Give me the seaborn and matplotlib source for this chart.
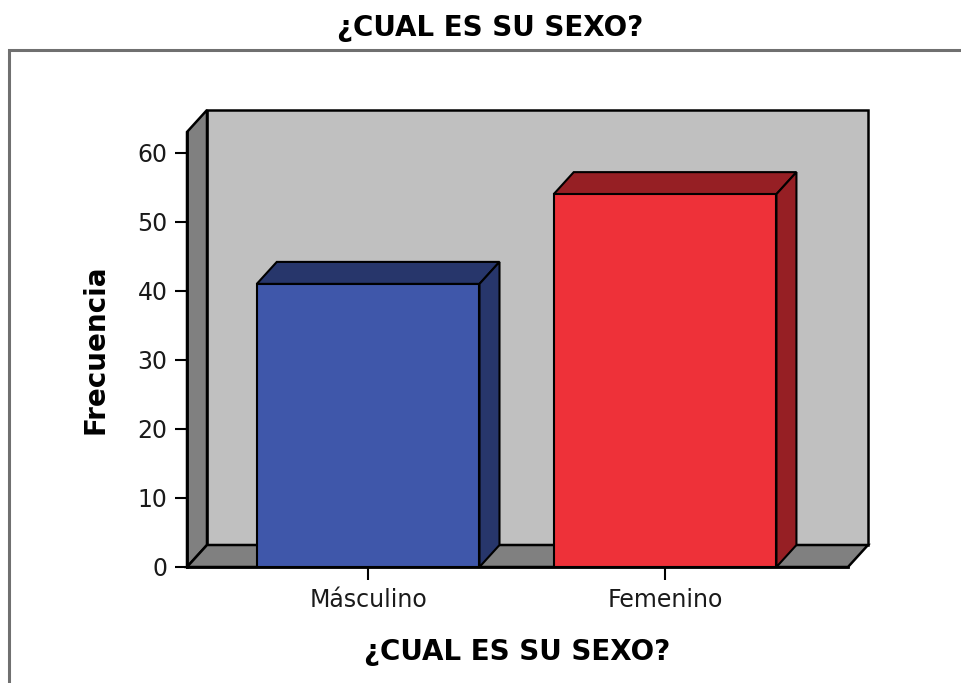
import numpy as np
import pandas as pd
import matplotlib
matplotlib.use('Agg')
import matplotlib.pyplot as plt
import seaborn as sns
from matplotlib.patches import Polygon, Rectangle

# Data
categories = ['Másculino', 'Femenino']
counts = [41, 54]
y_ticks = [0, 10, 20, 30, 40, 50, 60]
title = '¿CUAL ES SU SEXO?'

front_colors = ['#3F57AA', '#EE3139']
shade_colors = ['#27366B', '#961F24']

sns.set_style('white')
plt.rcParams['font.family'] = ['DejaVu Sans']
plt.rcParams['text.color'] = 'black'

fig = plt.figure(figsize=(9.62, 6.83), dpi=100)
ax = fig.add_axes([187 / 962, 1 - 567 / 683, 661 / 962, 435 / 683])
ax.patch.set_visible(False)

df = pd.DataFrame({'sexo': categories, 'frecuencia': counts})
sns.barplot(data=df, x='sexo', y='frecuencia', hue='sexo', palette=front_colors,
            saturation=1, width=0.75, edgecolor='black', linewidth=1.5, legend=False,
            ax=ax, zorder=4)
bars = sorted(ax.patches, key=lambda p: p.get_x())

ax.set_xlim(-0.61, 1.616)
ax.set_ylim(0, 63)

# depth of the fake 3D effect, in pixels -> data units
inv = ax.transData.inverted()
ox, oy = ax.transData.transform((0, 0))
dx, dy = inv.transform((ox + 20, oy + 22))
xmin, xmax = ax.get_xlim()
ymax = ax.get_ylim()[1]

# back wall, left wall and floor
ax.add_patch(Polygon([(xmin + dx, dy), (xmax + dx, dy), (xmax + dx, ymax + dy), (xmin + dx, ymax + dy)],
                     closed=True, fc='#C0C0C0', ec='black', lw=1.8, zorder=1, clip_on=False))
ax.add_patch(Polygon([(xmin, 0), (xmin, ymax), (xmin + dx, ymax + dy), (xmin + dx, dy)],
                     closed=True, fc='#808080', ec='black', lw=1.8, zorder=1.5, clip_on=False))
ax.add_patch(Polygon([(xmin, 0), (xmax, 0), (xmax + dx, dy), (xmin + dx, dy)],
                     closed=True, fc='#808080', ec='black', lw=1.8, zorder=1.5, clip_on=False))

# top and side faces of the bars
for bar, shade in zip(bars, shade_colors):
    x0 = bar.get_x()
    x1 = x0 + bar.get_width()
    h = bar.get_height()
    ax.add_patch(Polygon([(x0, h), (x1, h), (x1 + dx, h + dy), (x0 + dx, h + dy)],
                         closed=True, fc=shade, ec='black', lw=1.5, zorder=3.5, clip_on=False))
    ax.add_patch(Polygon([(x1, 0), (x1, h), (x1 + dx, h + dy), (x1 + dx, dy)],
                         closed=True, fc=shade, ec='black', lw=1.5, zorder=3.5, clip_on=False))

# axes styling
for side in ['top', 'right']:
    ax.spines[side].set_visible(False)
for side in ['left', 'bottom']:
    ax.spines[side].set_color('black')
    ax.spines[side].set_linewidth(2)
    ax.spines[side].set_zorder(5)

ax.set_yticks(y_ticks)
ax.tick_params(axis='both', bottom=True, left=True, length=9, width=1.5, color='black',
               labelsize=17, labelcolor='#1a1a1a', direction='out')
ax.tick_params(axis='y', pad=5)
ax.tick_params(axis='x', pad=6)

ax.set_xlabel(title, fontsize=20, fontweight='bold', va='center', color='black')
ax.xaxis.set_label_coords(0.5, -0.195)
ax.set_ylabel('Frecuencia', fontsize=20, fontweight='bold', va='center', color='black')
ax.yaxis.set_label_coords(-0.139, 0.5)

fig.text(490 / 962, 1 - 28 / 683, title, ha='center', va='center', fontsize=20,
         fontweight='bold', color='black')

# outer frame
fig.add_artist(Rectangle((9 / 962, -0.1), 1.2, (1 - 50 / 683) + 0.1, transform=fig.transFigure,
                         fill=False, ec='#707070', lw=2.2))

fig.savefig('out.png', dpi=100)
